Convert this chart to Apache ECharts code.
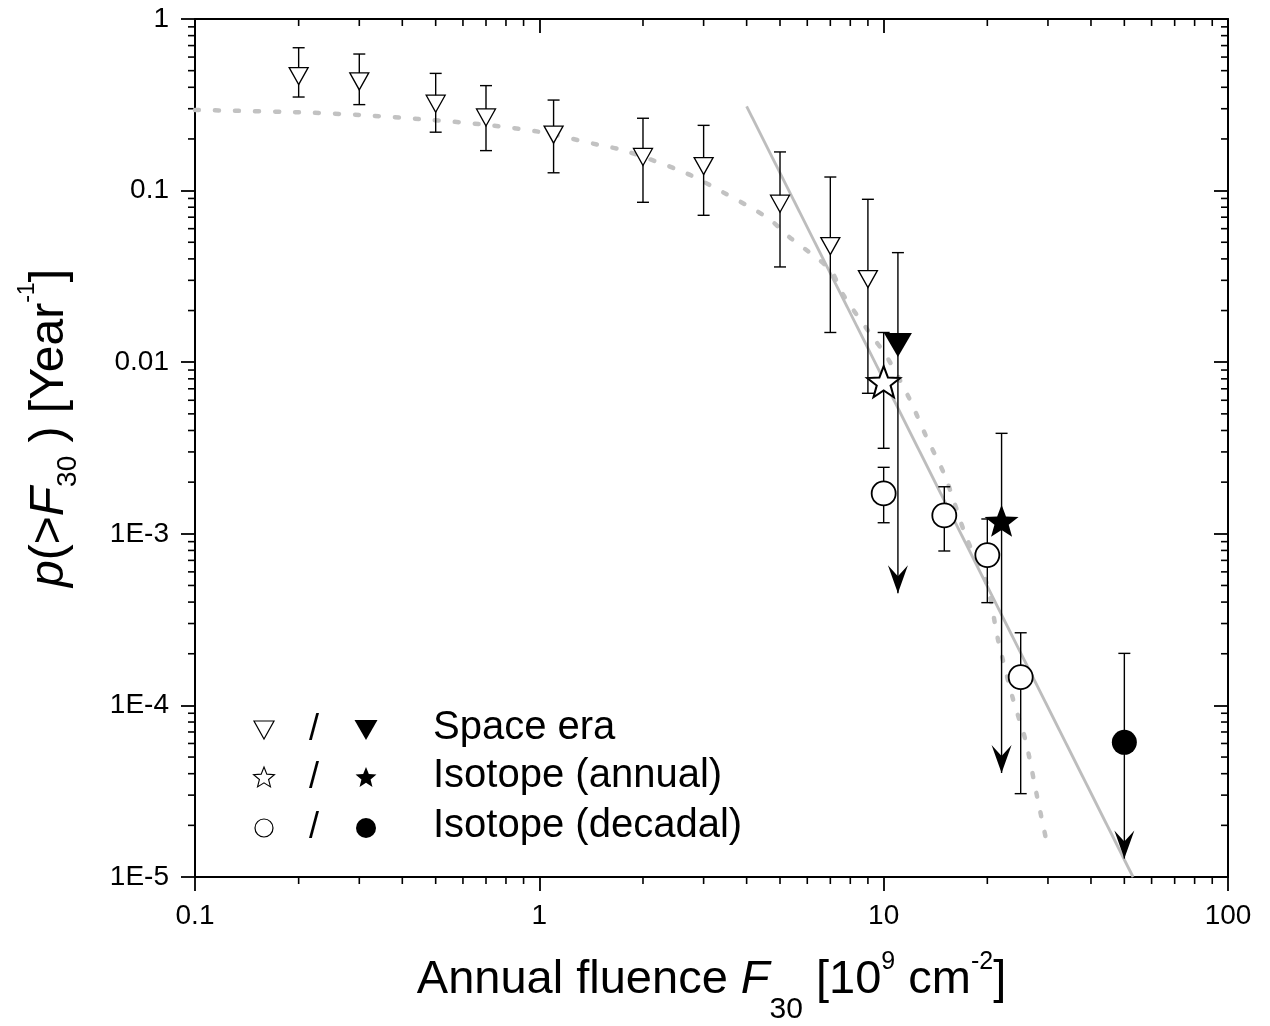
<!DOCTYPE html>
<html lang="en">
  <head>
    <meta charset="UTF-8" />
    <title>p(&gt;F30) vs annual fluence</title>
    <style>
      * {
        padding: 0;
        margin: 0;
      }
      html,
      body {
        width: 100%;
        height: 100%;
        background: #fff;
      }
      #main {
        width: 1270px;
        height: 1026px;
      }
    </style>
  </head>
  <body>
    <div id="main"></div>
    <script src="https://cdn.jsdelivr.net/npm/echarts@6/dist/echarts.min.js"></script>
    <script>
      // space era (open triangles)
      var spaceX = [0.2, 0.3, 0.5, 0.7, 1.1, 2, 3, 5, 7, 9];
      var spaceY = [0.465, 0.433, 0.321, 0.267, 0.212, 0.157, 0.139, 0.0839, 0.0475, 0.0305];
      var spaceHi = [0.68, 0.625, 0.482, 0.409, 0.337, 0.264, 0.24, 0.168, 0.12, 0.089];
      var spaceLo = [0.351, 0.317, 0.219, 0.171, 0.127, 0.0855, 0.0718, 0.0359, 0.0149, 0.00659];

      // isotope annual (open star)
      var annualX = [10];
      var annualY = [0.0077];
      var annualHi = [0.0149];
      var annualLo = [0.00315];

      // isotope decadal (open circles)
      var decadalX = [10, 15, 20, 25];
      var decadalY = [0.00172, 0.00128, 0.000752, 0.000146];
      var decadalHi = [0.00244, 0.00188, 0.00122, 0.000265];
      var decadalLo = [0.00116, 0.000794, 0.000397, 0.0000306];

      // upper limits (filled): space era, annual, decadal
      var limitX = [11, 22, 50];
      var limitY = [0.0126, 0.00119, 0.0000609];
      var limitHi = [0.0435, 0.00385, 0.000201];
      var limitArrow = [0.00045, 0.0000404, 0.0000128];

      // fitted curves
      var dottedFit = [
        [0.1, 0.295], [0.2, 0.286], [0.3, 0.276], [0.45, 0.261], [0.67, 0.244],
        [1.0, 0.22], [1.5, 0.184], [1.75, 0.172], [2.63, 0.128], [3.43, 0.0973],
        [4.62, 0.069], [5.3, 0.054], [7.0, 0.0345], [7.57, 0.0253], [9.13, 0.0147],
        [10.2, 0.0108], [11.8, 0.0063], [13.3, 0.00368], [15.1, 0.00215], [17.4, 0.000946],
        [19.9, 0.000517], [21.5, 0.00024], [23.8, 0.000107], [25.8, 0.000063],
        [27.9, 0.0000294], [29.8, 0.0000157]
      ];
      var powerFit = [[4, 0.31], [53, 0.00001]];

      // axes
      var xMin = 0.1, xMax = 100;
      var yMin = 0.00001, yMax = 1;
      var minorMantissa = [2, 3, 4, 5, 6, 7, 8, 9];
      var xDecades = [0.1, 1, 10];
      var yDecades = [0.00001, 0.0001, 0.001, 0.01, 0.1];

      var FONT = 'Liberation Sans, Arial, sans-serif';

      function starPoints(R, r) {
        var pts = [];
        for (var i = 0; i < 10; i++) {
          var a = -Math.PI / 2 + i * Math.PI / 5;
          var rad = i % 2 === 0 ? R : r;
          pts.push([rad * Math.cos(a), rad * Math.sin(a)]);
        }
        return pts;
      }
      var starPath = 'path://M' + starPoints(50, 21).map(function(p) {
        return (p[0] + 50).toFixed(2) + ',' + (p[1] + 50).toFixed(2);
      }).join('L') + 'Z';

      var barData = [];
      spaceX.forEach(function(x, i) { barData.push([x, spaceHi[i], spaceLo[i], 0]); });
      annualX.forEach(function(x, i) { barData.push([x, annualHi[i], annualLo[i], 0]); });
      decadalX.forEach(function(x, i) { barData.push([x, decadalHi[i], decadalLo[i], 0]); });
      limitX.forEach(function(x, i) { barData.push([x, limitHi[i], limitArrow[i], 1]); });

      var minorData = [];
      xDecades.forEach(function(d) {
        minorMantissa.forEach(function(m) { minorData.push([m * d, yMin, 0]); });
      });
      yDecades.forEach(function(d) {
        minorMantissa.forEach(function(m) { minorData.push([xMin, m * d, 1]); });
      });

      function seg(x1, y1, x2, y2, w) {
        return {
          type: 'line',
          shape: { x1: x1, y1: y1, x2: x2, y2: y2 },
          style: { stroke: '#000', lineWidth: w }
        };
      }

      function renderBars(params, api) {
        var x = api.value(0);
        var top = api.coord([x, api.value(1)]);
        var bot = api.coord([x, api.value(2)]);
        var kind = api.value(3);
        var cap = 6;
        var children = [
          seg(top[0], top[1], bot[0], bot[1], 1.4),
          seg(top[0] - cap, top[1], top[0] + cap, top[1], 1.4)
        ];
        if (kind === 0) {
          children.push(seg(bot[0] - cap, bot[1], bot[0] + cap, bot[1], 1.4));
        } else {
          children.push({
            type: 'polygon',
            shape: {
              points: [
                [bot[0], bot[1]],
                [bot[0] - 10, bot[1] - 28],
                [bot[0], bot[1] - 17],
                [bot[0] + 10, bot[1] - 28]
              ]
            },
            style: { fill: '#000' }
          });
        }
        return { type: 'group', children: children };
      }

      function renderMinor(params, api) {
        var len = 7;
        if (api.value(2) === 0) {
          var b = api.coord([api.value(0), yMin]);
          var t = api.coord([api.value(0), yMax]);
          return {
            type: 'group',
            children: [seg(b[0], b[1], b[0], b[1] + len, 1.6), seg(t[0], t[1], t[0], t[1] + len, 1.6)]
          };
        }
        var l = api.coord([xMin, api.value(1)]);
        var r = api.coord([xMax, api.value(1)]);
        return {
          type: 'group',
          children: [seg(l[0] - len, l[1], l[0], l[1], 1.6), seg(r[0] - len, r[1], r[0], r[1], 1.6)]
        };
      }

      function yLabel(v) {
        var e = Math.round(Math.log10(v));
        if (e >= -2) return (Math.pow(10, e)).toFixed(Math.max(0, -e));
        return '1E' + e;
      }
      function xLabel(v) {
        var e = Math.round(Math.log10(v));
        return (Math.pow(10, e)).toFixed(Math.max(0, -e));
      }

      var axisLineStyle = { lineStyle: { color: '#000', width: 2 } };
      var tickLine = { color: '#000', width: 1.8 };

      var myChart = echarts.init(document.getElementById('main'), null, { renderer: 'canvas' });

      var legendRows = [
        { y: 730, label: 'Space era' },
        { y: 778, label: 'Isotope (annual)' },
        { y: 828, label: 'Isotope (decadal)' }
      ];
      var graphics = [
        {
          type: 'polygon', x: 264, y: legendRows[0].y,
          shape: { points: [[-10, -9], [10, -9], [0, 9]] },
          style: { fill: '#fff', stroke: '#000', lineWidth: 1.2 }
        },
        {
          type: 'polygon', x: 366, y: legendRows[0].y,
          shape: { points: [[-11.5, -10], [11.5, -10], [0, 10]] },
          style: { fill: '#000' }
        },
        {
          type: 'polygon', x: 264, y: legendRows[1].y,
          shape: { points: starPoints(11, 4.8) },
          style: { fill: '#fff', stroke: '#000', lineWidth: 1.1 }
        },
        {
          type: 'polygon', x: 366, y: legendRows[1].y,
          shape: { points: starPoints(11, 4.8) },
          style: { fill: '#000' }
        },
        {
          type: 'circle', x: 264, y: legendRows[2].y,
          shape: { r: 9 },
          style: { fill: '#fff', stroke: '#000', lineWidth: 1.2 }
        },
        {
          type: 'circle', x: 366, y: legendRows[2].y,
          shape: { r: 10 },
          style: { fill: '#000' }
        }
      ];
      legendRows.forEach(function(row) {
        graphics.push({
          type: 'text', x: 314, y: row.y,
          style: { text: '/', fill: '#000', font: '36px ' + FONT, align: 'center', verticalAlign: 'middle' }
        });
        graphics.push({
          type: 'text', x: 433, y: row.y - 2,
          style: { text: row.label, fill: '#000', font: '40px ' + FONT, align: 'left', verticalAlign: 'middle' }
        });
      });

      var option = {
        animation: false,
        backgroundColor: '#fff',
        grid: { left: 195, right: 42, top: 19, bottom: 149, containLabel: false, outerBoundsMode: 'none' },
        xAxis: [
          {
            type: 'log', logBase: 10, min: xMin, max: xMax, position: 'bottom',
            axisLine: axisLineStyle,
            axisTick: { show: true, inside: false, length: 14, lineStyle: tickLine },
            axisLabel: { color: '#000', fontSize: 28, fontFamily: FONT, margin: 25, formatter: xLabel },
            splitLine: { show: false },
            name: '{t|Annual fluence }{i|F}{sub|30}{t| [10}{sup|9}{t| cm}{sup|-2}{t|]}',
            nameLocation: 'middle',
            nameGap: 68,
            nameTextStyle: {
              rich: {
                t: { fontSize: 47, lineHeight: 50, fontFamily: FONT, color: '#000' },
                i: { fontSize: 47, lineHeight: 50, fontFamily: FONT, fontStyle: 'italic', color: '#000' },
                sub: { fontSize: 30, lineHeight: 30, padding: [60, 0, 0, 0], fontFamily: FONT, color: '#000' },
                sup: { fontSize: 25, lineHeight: 25, padding: [0, 0, 36, 0], fontFamily: FONT, color: '#000' }
              }
            }
          },
          {
            type: 'log', logBase: 10, min: xMin, max: xMax, position: 'top',
            axisLine: axisLineStyle,
            axisTick: { show: true, inside: true, length: 14, lineStyle: tickLine },
            axisLabel: { show: false },
            splitLine: { show: false }
          }
        ],
        yAxis: [
          {
            type: 'log', logBase: 10, min: yMin, max: yMax, position: 'left',
            axisLine: axisLineStyle,
            axisTick: { show: true, inside: false, length: 14, lineStyle: tickLine },
            axisLabel: { color: '#000', fontSize: 28, fontFamily: FONT, margin: 26, formatter: yLabel },
            splitLine: { show: false },
            name: '{i|p}{t|(>}{i|F}{sub|30}{t| ) [Year}{sup|-1}{t|]}',
            nameLocation: 'middle',
            nameGap: 120,
            nameTextStyle: {
              padding: [0, 0, 0, 40],
              rich: {
                t: { fontSize: 48, lineHeight: 50, fontFamily: FONT, color: '#000' },
                i: { fontSize: 48, lineHeight: 50, fontFamily: FONT, fontStyle: 'italic', color: '#000' },
                sub: { fontSize: 28, lineHeight: 28, padding: [36, 0, 0, 0], fontFamily: FONT, color: '#000' },
                sup: { fontSize: 23, lineHeight: 23, padding: [0, 0, 44, 0], fontFamily: FONT, color: '#000' }
              }
            }
          },
          {
            type: 'log', logBase: 10, min: yMin, max: yMax, position: 'right',
            axisLine: axisLineStyle,
            axisTick: { show: true, inside: true, length: 14, lineStyle: tickLine },
            axisLabel: { show: false },
            splitLine: { show: false }
          }
        ],
        graphic: graphics,
        series: [
          {
            type: 'custom',
            name: 'minor ticks',
            silent: true,
            clip: false,
            renderItem: renderMinor,
            encode: { x: 0, y: 1 },
            data: minorData,
            z: 1
          },
          {
            type: 'line',
            name: 'dotted fit',
            data: dottedFit,
            showSymbol: false,
            symbol: 'none',
            smooth: 0.3,
            lineStyle: { color: '#c2c2c2', width: 4.5, type: [4, 16], cap: 'round' },
            z: 2
          },
          {
            type: 'line',
            name: 'power fit',
            data: powerFit,
            symbol: 'none',
            lineStyle: { color: '#bdbdbd', width: 2.8 },
            z: 2
          },
          {
            type: 'custom',
            name: 'error bars',
            silent: true,
            clip: false,
            renderItem: renderBars,
            encode: { x: 0, y: [1, 2] },
            data: barData,
            z: 3
          },
          {
            type: 'scatter',
            name: 'Space era',
            data: spaceX.map(function(x, i) { return [x, spaceY[i]]; }),
            symbol: 'triangle',
            symbolRotate: 180,
            symbolSize: [19, 17],
            itemStyle: { color: '#fff', borderColor: '#000', borderWidth: 1.3, opacity: 1 },
            z: 4
          },
          {
            type: 'scatter',
            name: 'Isotope (annual)',
            data: annualX.map(function(x, i) { return [x, annualY[i]]; }),
            symbol: starPath,
            symbolSize: [33, 31],
            itemStyle: { color: '#fff', borderColor: '#000', borderWidth: 2, opacity: 1 },
            z: 4
          },
          {
            type: 'scatter',
            name: 'Isotope (decadal)',
            data: decadalX.map(function(x, i) { return [x, decadalY[i]]; }),
            symbol: 'circle',
            symbolSize: 24,
            itemStyle: { color: '#fff', borderColor: '#000', borderWidth: 1.8, opacity: 1 },
            z: 4
          },
          {
            type: 'scatter',
            name: 'Space era limit',
            data: [[limitX[0], limitY[0]]],
            symbol: 'triangle',
            symbolRotate: 180,
            symbolSize: [28, 24],
            itemStyle: { color: '#000', opacity: 1 },
            z: 4
          },
          {
            type: 'scatter',
            name: 'Isotope annual limit',
            data: [[limitX[1], limitY[1]]],
            symbol: starPath,
            symbolSize: [34, 32],
            itemStyle: { color: '#000', opacity: 1 },
            z: 4
          },
          {
            type: 'scatter',
            name: 'Isotope decadal limit',
            data: [[limitX[2], limitY[2]]],
            symbol: 'circle',
            symbolSize: 25,
            itemStyle: { color: '#000', opacity: 1 },
            z: 4
          }
        ]
      };
      myChart.setOption(option);
    </script>
  </body>
</html>
